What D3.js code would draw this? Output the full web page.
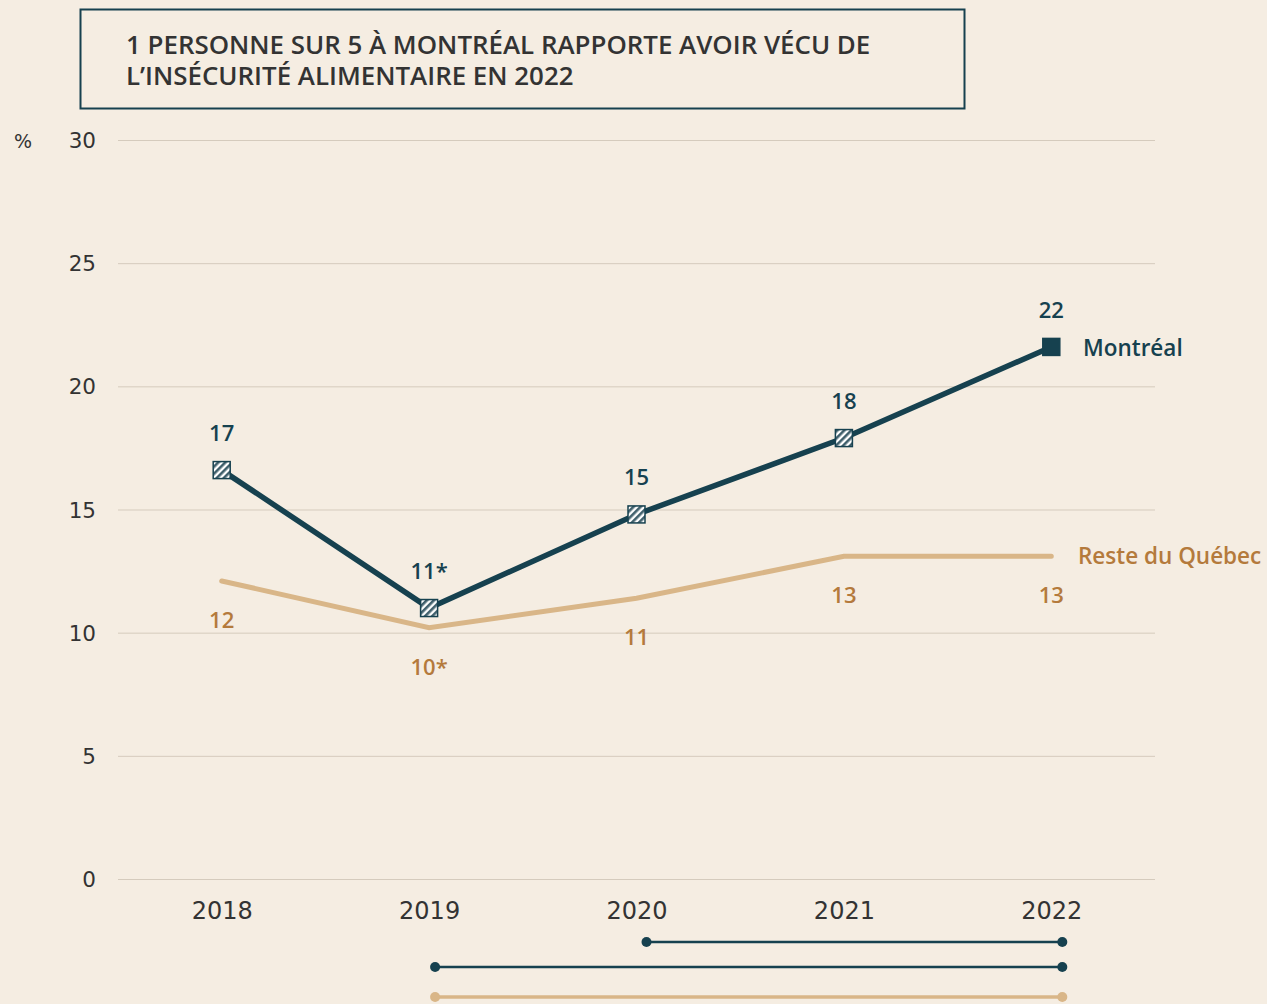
<!DOCTYPE html>
<html><head><meta charset="utf-8">
<script src="https://cdn.jsdelivr.net/npm/d3@7"></script>
<style>
html,body{margin:0;padding:0;background:#f5ede2;}
svg{display:block;}
</style></head>
<body>
<svg id="c" width="1267" height="1004"></svg>
<script>
const years = ["2018","2019","2020","2021","2022"];
const montreal = [16.6, 11.0, 14.8, 17.9, 21.6];
const montrealLabels = ["17","11*","15","18","22"];
const reste = [12.1, 10.2, 11.4, 13.1, 13.1];
const resteLabels = ["12","10*","11","13","13"];
const yTicks = [0,5,10,15,20,25,30];
const titleLines = ["1 PERSONNE SUR 5 À MONTRÉAL RAPPORTE AVOIR VÉCU DE","L’INSÉCURITÉ ALIMENTAIRE EN 2022"];
const sigBars = [
  {from:"2020", to:"2022", series:"montreal"},
  {from:"2019", to:"2022", series:"montreal"},
  {from:"2019", to:"2022", series:"reste"}
];

const dark = "#16414f", tan = "#d9b688", tanText = "#b47a3c", txt = "#333333";
const svg = d3.select("#c");
const font = "'Open Sans', 'Noto Sans', sans-serif";
const axFont = "'DejaVu Sans', sans-serif";

const x = d3.scalePoint().domain(years).range([118,1155]).padding(0.5);
const y = d3.scaleLinear().domain([0,30]).range([879,140]);

// title box
svg.append("rect").attr("x",80.5).attr("y",9.5).attr("width",884).attr("height",99)
  .attr("fill","none").attr("stroke",dark).attr("stroke-width",2);
svg.append("g").selectAll("text").data(titleLines).join("text")
  .attr("x",126).attr("y",(d,i)=>54+i*31)
  .attr("font-family",font).attr("font-weight",600).attr("font-size",25.9)
  .attr("fill",txt).text(d=>d);

// grid
const yAxis = d3.axisLeft(y).tickValues(yTicks).tickSize(-(1155-118)).tickFormat(d3.format("d"));
const ga = svg.append("g").attr("transform","translate(118,0)").call(yAxis);
ga.select(".domain").remove();
ga.selectAll(".tick line").attr("stroke","#d5cbbd").attr("stroke-width",1);
ga.selectAll(".tick text").attr("x",-22).attr("dy","0.35em").attr("font-family",axFont)
  .attr("font-size",21.5).attr("fill",txt);
svg.append("text").attr("x",14).attr("y",148).attr("font-family",axFont).attr("font-size",19)
  .attr("fill",txt).text("%");

// x axis
const xAxis = d3.axisBottom(x).tickSize(0);
const gx = svg.append("g").attr("transform","translate(0,879)").call(xAxis);
gx.select(".domain").remove();
gx.selectAll(".tick text").attr("dy",0).attr("y",40).attr("font-family",axFont)
  .attr("font-size",24).attr("fill",txt);

// patterns
const defs = svg.append("defs");
const pat = defs.append("pattern").attr("id","hatch").attr("patternUnits","userSpaceOnUse")
  .attr("width",5).attr("height",5).attr("patternTransform","rotate(45)");
pat.append("rect").attr("width",5).attr("height",5).attr("fill","#ffffff");
pat.append("rect").attr("width",2.6).attr("height",5).attr("fill","#3f5f6b");

const line = d3.line().x((d,i)=>x(years[i])).y(d=>y(d));

svg.append("path").datum(reste).attr("d",line).attr("fill","none")
  .attr("stroke",tan).attr("stroke-width",5).attr("stroke-linecap","round");
svg.append("path").datum(montreal).attr("d",line).attr("fill","none")
  .attr("stroke",dark).attr("stroke-width",5.5);

// markers
svg.append("g").selectAll("rect").data(montreal).join("rect")
  .attr("x",(d,i)=>x(years[i])-8.5).attr("y",d=>y(d)-8.5)
  .attr("width",17).attr("height",17)
  .attr("fill",(d,i)=>i===montreal.length-1?dark:"url(#hatch)")
  .attr("stroke",dark).attr("stroke-width",1.5);

// labels
svg.append("g").selectAll("text").data(montreal).join("text")
  .attr("x",(d,i)=>x(years[i])).attr("y",d=>y(d)-29)
  .attr("text-anchor","middle").attr("font-family",font).attr("font-weight",600)
  .attr("font-size",22).attr("fill",dark).text((d,i)=>montrealLabels[i]);
svg.append("g").selectAll("text").data(reste).join("text")
  .attr("x",(d,i)=>x(years[i])).attr("y",d=>y(d)+47)
  .attr("text-anchor","middle").attr("font-family",font).attr("font-weight",600)
  .attr("font-size",22).attr("fill",tanText).text((d,i)=>resteLabels[i]);

// series names
svg.append("text").attr("x",1083).attr("y",y(montreal[4])+9).attr("font-family",font)
  .attr("font-weight",600).attr("font-size",22.5).attr("fill",dark).text("Montréal");
svg.append("text").attr("x",1078).attr("y",y(reste[4])+8).attr("font-family",font)
  .attr("font-weight",600).attr("font-size",22.5).attr("fill",tanText).text("Reste du Québec");

// significance bars
const sigY = [942, 967, 997];
const sg = svg.append("g");
sigBars.forEach((b,i)=>{
  const c = b.series==="montreal"?dark:tan;
  const x1 = x(b.from)+(b.from==="2020"?10:6), x2 = x(b.to)+11;
  sg.append("line").attr("x1",x1).attr("x2",x2).attr("y1",sigY[i]).attr("y2",sigY[i])
    .attr("stroke",c).attr("stroke-width",b.series==="montreal"?2.5:3.5);
  [x1,x2].forEach(xx=>sg.append("circle").attr("cx",xx).attr("cy",sigY[i]).attr("r",5).attr("fill",c));
});
</script>
</body></html>
